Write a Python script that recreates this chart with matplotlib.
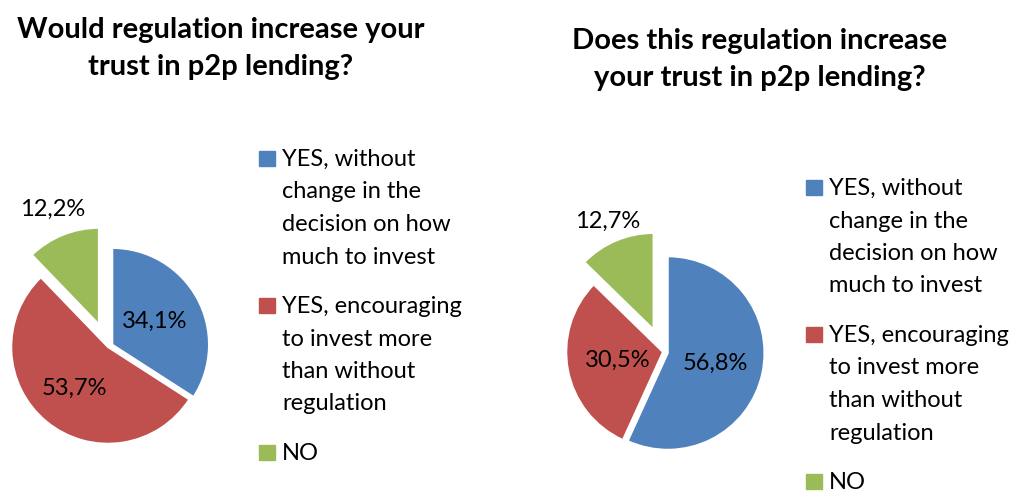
import numpy as np
import matplotlib
matplotlib.use("Agg")
import matplotlib.pyplot as plt
from matplotlib.patches import Rectangle

plt.rcParams['font.family'] = ['Lato', 'DejaVu Sans']

# survey answers
categories = ["YES, without\nchange in the\ndecision on how\nmuch to invest",
              "YES, encouraging\nto invest more\nthan without\nregulation",
              "NO"]
share_would = [34.1, 53.7, 12.2]
share_does = [56.8, 30.5, 12.7]
title_would = "Would regulation increase your\ntrust in p2p lending?"
title_does = "Does this regulation increase\nyour trust in p2p lending?"

colours = ['#4F81BD', '#C0504D', '#9BBB59']
explode = [0.05, 0.0, 0.25]

W, H = 1016, 492
fig = plt.figure(figsize=(W / 100, H / 100), dpi=100)


def px(x, y):
    # image pixel (from top left) -> figure fraction
    return x / W, 1 - y / H


def pie_block(values, cx, cy, title, tx, ty, lx, ly, label_pos):
    size = 300  # axes size in px, 3.1 data units wide
    ax = fig.add_axes([(cx - size / 2) / W, (H - cy - size / 2) / H, size / W, size / H])
    wedges, _ = ax.pie(values, colors=colours, explode=explode, startangle=90,
                       counterclock=False, radius=1.0,
                       wedgeprops=dict(edgecolor='white', linewidth=1.5))
    ax.set_xlim(-1.55, 1.55)
    ax.set_ylim(-1.55, 1.55)
    ax.set_aspect('equal')
    ax.axis('off')

    # percentage labels, placed along each wedge's middle angle
    for w, v, d in zip(wedges, values, label_pos):
        ang = np.deg2rad((w.theta1 + w.theta2) / 2)
        ox, oy = w.center
        ax.text(ox + d * np.cos(ang), oy + d * np.sin(ang),
                f"{v:.1f}%".replace('.', ','), ha='center', va='center',
                fontsize=17, color='black')

    # title
    for i, line in enumerate(title.split('\n')):
        fig.text(*px(tx, ty + i * 37), line, ha='center', va='baseline',
                 fontsize=21, fontweight='bold')

    # legend
    y = ly
    for cat, col in zip(categories, colours):
        fig.patches.append(Rectangle(px(lx, y), 16 / W, 15 / H, color=col,
                                     transform=fig.transFigure, figure=fig))
        for line in cat.split('\n'):
            fig.text(*px(lx + 23, y), line, ha='left', va='baseline', fontsize=17)
            y += 32.5
        y += 17


pie_block(share_would, 108, 347, title_would, 221, 38, 259, 166, [0.5, 0.55, 1.28])
pie_block(share_does, 663, 352, title_does, 760, 49, 806, 195, [0.5, 0.48, 1.22])

fig.savefig('out.png', dpi=100)
